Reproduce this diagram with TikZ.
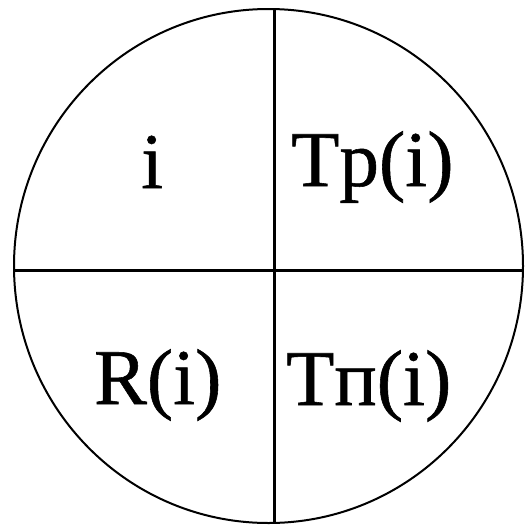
\documentclass[tikz,border=0pt]{standalone}
\usepackage{fontspec}
\setmainfont{Liberation Serif}
\newfontfamily\heavy{Liberation Serif}[FakeBold=0.7]
\begin{document}
\begin{tikzpicture}[x=1pt,y=-1pt,
  lbl/.style={anchor=base west,inner sep=0pt,font=\heavy\fontsize{79}{90}\selectfont},
  divline/.style={line width=2.5pt,black},
  rim/.style={line width=2pt,black}]
\useasboundingbox (0,0) rectangle (525,525);
\fill[white] (0,0) rectangle (525,525);
\draw[rim] (268.5,266) ellipse [x radius=254.5, y radius=257];
\coordinate (top) at (274.5,9);
\coordinate (bot) at (274.5,523);
\coordinate (lft) at (14,270.5);
\coordinate (rgt) at (523,270.5);
\draw[divline] (top) -- (bot);
\draw[divline] (lft) -- (rgt);
\node[lbl] (a) at (141,188) {i};
\node[lbl] (b) at (291,186) {Tp(i)};
\node[lbl] (c) at (94,404) {R(i)};
\node[lbl] (d) at (286,405) {Tп(i)};
\end{tikzpicture}
\end{document}
